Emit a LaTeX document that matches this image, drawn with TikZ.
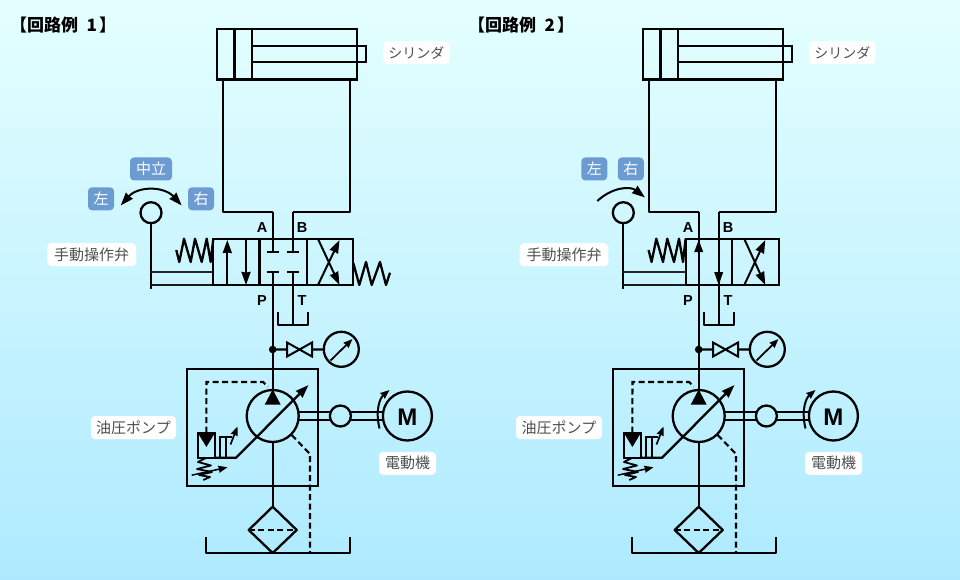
\documentclass[tikz,border=0pt]{standalone}
\usepackage{fontspec}
\setmainfont{Liberation Sans}
\newfontfamily\jp{Noto Sans CJK JP}
\usetikzlibrary{arrows.meta,calc}
\definecolor{bgtop}{HTML}{E4FFFF}
\definecolor{bgbot}{HTML}{AEEAFF}
\definecolor{chipblue}{HTML}{6C9BD2}
\definecolor{labgray}{HTML}{505050}
\tikzset{
  ln/.style={line width=2.3pt,line join=round},
  dashln/.style={line width=2.2pt,dash pattern=on 6pt off 3.5pt},
  boxn/.style={draw,line width=2.3pt,inner sep=0pt,outer sep=0pt,rectangle,anchor=north west},
  circn/.style={draw,line width=2.3pt,circle,inner sep=0pt,outer sep=0pt},
  lab/.style={fill=white,rounded corners=4pt,text=labgray,font=\jp\fontsize{15}{15}\selectfont,inner sep=0pt,minimum height=23pt},
  labk/.style={lab,font=\jp\fontsize{14}{14}\selectfont},
  chip/.style={fill=chipblue,rounded corners=4pt,text=white,font=\jp\fontsize{15}{15}\selectfont,inner sep=0pt,minimum height=23pt},
  port/.style={font=\bfseries\fontsize{14.5}{14.5}\selectfont,inner sep=0pt},
  ttl/.style={font=\jp\bfseries\fontsize{17}{17}\selectfont,anchor=west,inner sep=0pt},
  head/.style={-{Stealth[length=13pt,width=9pt,inset=0.5pt]}},
  smallhead/.style={-{Stealth[length=9pt,width=7pt,inset=0.5pt]}},
}
\newcommand{\commonparts}[1]{%
  % cylinder
  \node[boxn,minimum width=140pt,minimum height=50.5pt] (#1cyl) at (216.7,29) {};
  \node[boxn,minimum width=114pt,minimum height=16.3pt] (#1rod) at (252.3,45.7) {};
  \draw[ln] (234.6,29) -- (234.6,79.5) (252.3,29) -- (252.3,79.5);
  \coordinate (#1pa) at (272.7,211.7);
  \coordinate (#1pb) at (292.7,211.7);
  \draw[ln] (#1pa) -- (223.3,211.7) -- (223.3,79.5) (349.7,79.5) -- (349.7,211.7) -- (#1pb);
  % gauge branch
  \coordinate (#1jn) at (272.7,349.5);
  \fill (#1jn) circle (3.8pt);
  \coordinate (#1vl) at (287,349.5);
  \coordinate (#1vr) at (312,349.5);
  \draw[line width=2pt,line join=miter] (#1vl) -- ++(0,-7) -- ++(25,14) -- ++(0,-14) -- ++(-25,14) -- cycle;
  \node[circn,minimum size=35pt] (#1gauge) at (341.3,349.3) {};
  \draw[ln] (#1jn) -- (#1vl) (#1vr) -- (#1gauge);
  \draw[line width=1.8pt,smallhead] (330.5,360.5) -- (352.5,339);
  % unit box, pump
  \node[boxn,minimum width=130.4pt,minimum height=116.7pt] (#1unit) at (187.3,369.3) {};
  \node[circn,minimum size=52pt] (#1pump) at (272.7,416) {};
  \fill ($(#1pump.north)+(0,-0.5)$) -- (264.7,404.7) -- (280.7,404.7) -- cycle;
  \draw[ln] (#1jn) -- (#1pump.north);
  \draw[ln,head] (215,457.7) -- (236,457.7) -- (308.5,385);
  % shaft, coupling, motor
  \node[circn,minimum size=21pt] (#1coup) at (340.4,416) {};
  \node[circn,minimum size=49pt] (#1motor) at (407.4,416) {};
  \node[font=\bfseries\fontsize{24}{24}\selectfont,inner sep=0pt] (#1mlab) at (407.4,417) {M};
  \draw[line width=2pt] ([yshift=4.2pt]#1pump.east) -- ([yshift=4.2pt]#1coup.west)
     ([yshift=-4.2pt]#1pump.east) -- ([yshift=-4.2pt]#1coup.west)
     ([yshift=4.2pt]#1coup.east) -- ([yshift=4.2pt]#1motor.west)
     ([yshift=-4.2pt]#1coup.east) -- ([yshift=-4.2pt]#1motor.west);
  \draw[line width=2pt,smallhead] (379.5,428.5) .. controls (375,410) and (380,398) .. (389.5,390);
  % relief valve
  \node[boxn,minimum width=17.3pt,minimum height=25pt] (#1rel) at (197.7,432.7) {};
  \fill ($(#1rel.north west)$) -- (#1rel.north east) -- (206.4,447) -- cycle;
  \draw[dashln] (#1rel.north) -- (206.4,382) -- (263,382) -- (268,386.5);
  \draw[line width=1.8pt] (220,457.7) -- (220,437) -- (232,437) (226.3,437) -- (226.3,457.7);
  \draw[line width=1.7pt,smallhead] (230.5,444.5) -- (237.5,426.5);
  \draw[line width=1.8pt,line join=round] (#1rel.south) -- (198,462) -- (211,465.5) -- (197,469) -- (212,472) -- (199,475) -- (210,477) -- (203.3,480);
  \draw[line width=1.5pt,smallhead] (191.7,475.2) -- (227.5,467.3);
  % filter and tank
  \coordinate (#1ft) at (272.7,506.7);
  \draw[ln] (#1ft) -- (296.7,530) -- (272.7,553) -- (248.7,530) -- cycle;
  \draw[line width=2pt,dash pattern=on 6pt off 3.5pt] (248.7,530) -- (296.7,530);
  \draw[ln] (#1pump.south) -- (#1ft);
  \draw[ln] (206,537.3) -- (206,552.7) -- (350.3,552.7) -- (350.3,537.3);
  \draw[dashln] (291.7,435) -- (310,454) -- (310,552.7);
  % labels
  \node[labk,minimum width=66pt] (#1lcyl) at (416.3,52.7) {シリンダ};
  \node[lab,minimum width=57pt] (#1lmot) at (407.5,463.3) {電動機};
  \node[port] (#1la) at (262,228) {A};
  \node[port] (#1lb) at (302,228) {B};
  \node[port] (#1lp) at (262,301) {P};
  \node[port] (#1lt) at (302,301) {T};
}
\newcommand{\leverparts}[1]{%
  \node[circn,minimum size=21pt] (#1lever) at (151,212.7) {};
  \draw[ln] (#1lever.south) -- (151,288.5);
  \draw[line width=1.8pt,draw=black!85] (151,272.3) -- (213.3,272.3);
  \draw[line width=2.2pt,draw=black!90] (151,285) -- (213.3,285);
  \draw[ln] (176.3,250) -- (179.3,262) -- (184,238.7) -- (190.7,262) -- (195,238.7) -- (201.7,262) -- (206.7,238.7) -- (210.7,262) -- (213.3,238.7);
  \node[lab,minimum width=88.7pt] (#1lman) at (91.7,254.7) {手動操作弁};
}
\begin{document}
\begin{tikzpicture}[x=1pt,y=-1pt]
\useasboundingbox (0,0) rectangle (960,580);
\shade[top color=bgtop,bottom color=bgbot] (0,0) rectangle (960,580);
\node[ttl] (title1) at (10,25) {【回路例\hspace{8.5pt}1\hspace{2pt}】};
\node[ttl] (title2) at (468,25) {【回路例\hspace{8.5pt}2\hspace{2pt}】};
% ---------- circuit 1
\commonparts{a-}
\leverparts{a-}
\node[lab,minimum width=85pt] (a-lpump) at (133.5,427.5) {油圧ポンプ};
\node[chip,minimum width=42pt] (a-lmid) at (151,169) {中立};
\node[chip,minimum width=26pt] (a-lleft) at (101,198.8) {左};
\node[chip,minimum width=26pt] (a-lright) at (201,198.8) {右};
\draw[line width=2pt,{Stealth[length=13pt,width=9pt,inset=0.5pt]}-{Stealth[length=13pt,width=9pt,inset=0.5pt]}] (120.7,205.5) .. controls (138,186) and (164,186) .. (181.7,205.5);
\node[boxn,minimum width=140pt,minimum height=46.3pt] (a-valve) at (213.3,238.7) {};
\draw[ln] (259.5,238.7) -- (259.5,285) (306.7,238.7) -- (306.7,285);
\draw[line width=2pt,head] (227.3,285) -- (227.3,240);
\draw[line width=2pt,head] (246,238.7) -- (246,285);
\draw[ln] (a-pa) -- (272.7,251.7) (a-pb) -- (292.7,251.7);
\draw[ln] (266.7,251.7) -- (279,251.7) (286.7,251.7) -- (299,251.7);
\draw[ln] (266.7,272.3) -- (279,272.3) (286.7,272.3) -- (299,272.3);
\draw[ln] (272.7,272.3) -- (a-jn);
\coordinate (a-tk) at (292.7,325);
\draw[ln] (292.7,272.3) -- (a-tk);
\draw[ln] (277.7,312) -- (277.7,325) -- (307.7,325) -- (307.7,312);
\draw[line width=2pt,head] (318,285) -- (339.5,240);
\draw[line width=2pt,head] (318,239) -- (339.5,285);
\draw[ln] (353.3,263) -- (359.3,285) -- (366,262) -- (371.7,285) -- (380,262) -- (386,285) -- (390,272.7);
% ---------- circuit 2
\begin{scope}[xshift=426pt]
\commonparts{b-}
\node[lab,minimum width=86pt] (b-lpump) at (133,427.5) {油圧ポンプ};
\node[boxn,minimum width=93.3pt,minimum height=46.3pt] (b-valve) at (259.7,238.7) {};
\draw[ln] (306.3,238.7) -- (306.3,285);
\draw[ln] (b-pa) -- (b-jn);
\draw[ln] (b-pb) -- (292.7,325);
\fill (272.7,240) -- (268.2,252) -- (277.2,252) -- cycle;
\fill (292.7,285) -- (288.2,272) -- (297.2,272) -- cycle;
\draw[ln] (277.7,312) -- (277.7,325) -- (307.7,325) -- (307.7,312);
\draw[line width=2pt,head] (318.3,285) -- (339.3,240);
\draw[line width=2pt,head] (318.3,239) -- (339.3,285);
\end{scope}
\begin{scope}[xshift=472.3pt]
\leverparts{b-}
\node[chip,minimum width=26pt] (b-lleft) at (122,169) {左};
\node[chip,minimum width=26pt] (b-lright) at (158.5,169) {右};
\draw[line width=2pt,-{Stealth[length=13pt,width=9pt,inset=0.5pt]}] (125,201) .. controls (140,187) and (158,186) .. (172.7,197.5);
\end{scope}
\end{tikzpicture}
\end{document}
